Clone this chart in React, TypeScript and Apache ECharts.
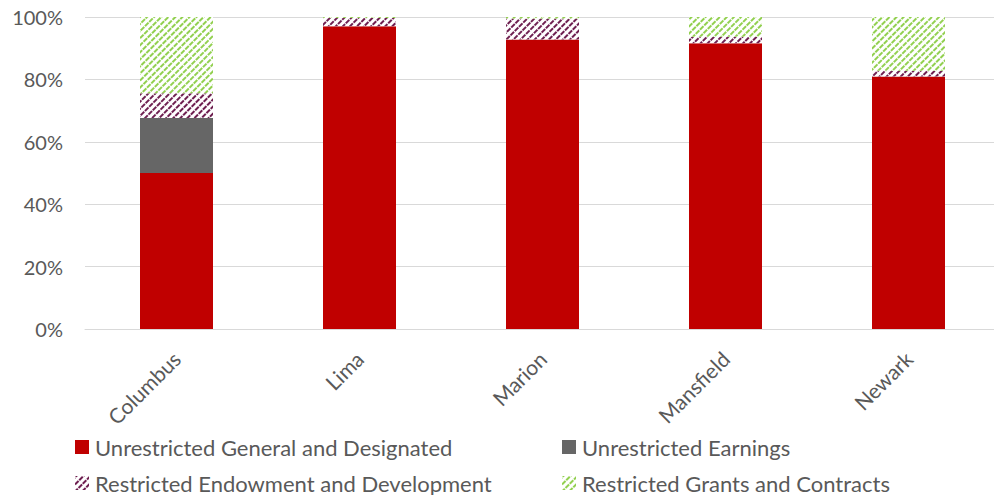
import React, { useEffect, useRef } from "react";
import * as echarts from "echarts";

const categories = ["Columbus", "Lima", "Marion", "Mansfield", "Newark"];
const generalDesignated = [50.0, 97.0, 92.8, 91.6, 80.9];
const unrestrictedEarnings = [17.6, 0, 0, 0, 0];
const endowmentDevelopment = [8.0, 2.7, 6.7, 2.1, 1.9];
const grantsContracts = [24.4, 0.3, 0.5, 6.3, 17.2];

const FONT = "Lato";
const TEXT = "#595959";

const S_GEN = "Unrestricted General and Designated";
const S_EARN = "Unrestricted Earnings";
const S_END = "Restricted Endowment and Development";
const S_GRANT = "Restricted Grants and Contracts";

export default function App() {
  const ref = useRef<HTMLDivElement>(null);
  useEffect(() => {
    if (!ref.current) return;
    const chart = echarts.init(ref.current, null, { renderer: "svg" });
    const hatch = (color: string) => ({
      color,
      symbol: "rect",
      symbolSize: 1,
      dashArrayX: [5, 1],
      dashArrayY: [1.5, 3],
      rotation: -Math.PI / 4,
    });
    const legendItem = (name: string, left: number, top: number) => ({
      orient: "horizontal",
      left,
      top,
      itemWidth: 14,
      itemHeight: 14,
      itemGap: 0,
      icon: "rect",
      data: [name],
      textStyle: { color: TEXT, fontSize: 22, fontFamily: FONT, lineHeight: 24, padding: [0, 0, 0, 1] },
      padding: 0,
    });
    chart.setOption({
      animation: false,
      textStyle: { fontFamily: FONT },
      grid: { left: 85, top: 17, right: 0, height: 312, containLabel: false },
      xAxis: {
        type: "category",
        data: categories,
        axisLine: { lineStyle: { color: "#d9d9d9", width: 1 } },
        axisTick: { show: false },
        axisLabel: {
          rotate: 45,
          margin: 26,
          color: TEXT,
          fontSize: 21,
          fontFamily: FONT,
        },
      },
      yAxis: {
        type: "value",
        min: 0,
        max: 100,
        interval: 20,
        axisLine: { show: false },
        axisTick: { show: false },
        splitLine: { lineStyle: { color: "#d9d9d9", width: 1 } },
        axisLabel: {
          formatter: "{value}%",
          color: TEXT,
          fontSize: 20,
          fontFamily: FONT,
          margin: 22,
        },
      },
      legend: [
        legendItem(S_GEN, 75, 435),
        legendItem(S_END, 75, 471),
        legendItem(S_EARN, 562, 435),
        legendItem(S_GRANT, 562, 471),
      ],
      series: [
        {
          name: S_GEN,
          type: "bar",
          stack: "total",
          barWidth: 73,
          data: generalDesignated,
          itemStyle: { color: "#c00000" },
        },
        {
          name: S_EARN,
          type: "bar",
          stack: "total",
          barWidth: 73,
          data: unrestrictedEarnings,
          itemStyle: { color: "#666666" },
        },
        {
          name: S_END,
          type: "bar",
          stack: "total",
          barWidth: 73,
          data: endowmentDevelopment,
          itemStyle: { color: "#ffffff", decal: hatch("#6e1f50") },
        },
        {
          name: S_GRANT,
          type: "bar",
          stack: "total",
          barWidth: 73,
          data: grantsContracts,
          itemStyle: { color: "#ffffff", decal: hatch("#92d050") },
        },
      ],
    });
    return () => chart.dispose();
  }, []);
  return (
    <div
      ref={ref}
      style={{ position: "fixed", left: 0, top: 0, width: 1000, height: 495, background: "#fff" }}
    />
  );
}
